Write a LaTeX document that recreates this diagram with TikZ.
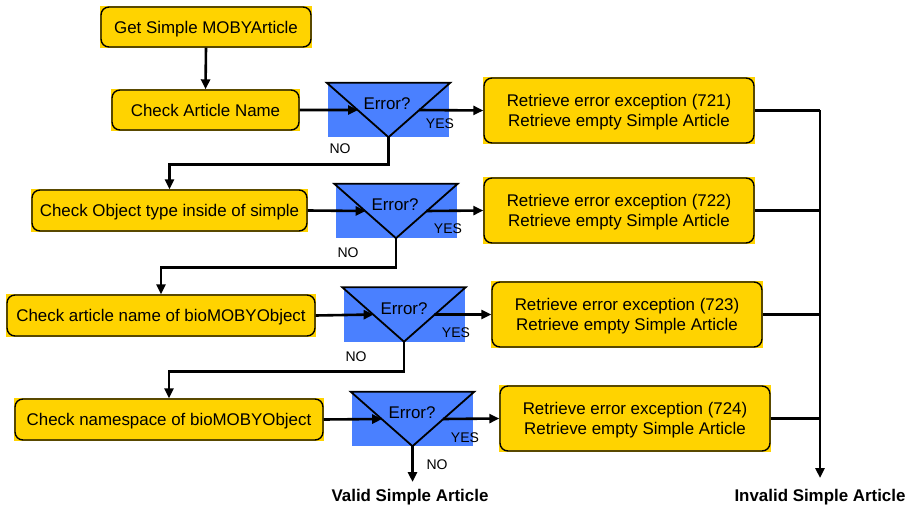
\documentclass[tikz,border=0pt]{standalone}
\usepackage{fontspec}
\setmainfont{Liberation Sans}
\usetikzlibrary{arrows.meta,backgrounds,calc}
\definecolor{yel}{RGB}{255,211,0}
\definecolor{blu}{RGB}{74,128,255}
\tikzset{
  box/.style={draw=black, line width=1.4pt, fill=yel, rounded corners=8pt, inner sep=0pt, align=center,
    text depth=-1.2pt, font=\fontsize{16.9}{19.5}\selectfont},
  bluerect/.style={fill=blu, inner sep=0pt, minimum width=121pt, minimum height=54pt},
  tri/.style={draw=black, line width=1.8pt, line join=miter},
  conn/.style={draw=black, line width=2.6pt},
  arr/.style={conn, -{Triangle[length=10pt,width=9pt]}},
  small/.style={font=\fontsize{14}{16}\selectfont, inner sep=0pt},
  errlbl/.style={font=\fontsize{16.9}{20}\selectfont, inner sep=0pt},
  endlbl/.style={font=\bfseries\fontsize{16.9}{20}\selectfont, inner sep=0pt},
}
\begin{document}
\begin{tikzpicture}[x=1pt,y=-1pt]
\useasboundingbox (0,0) rectangle (910,508);
% process boxes
\node[box, minimum width=210pt, minimum height=40pt] (b1) at (206,27) {Get Simple MOBYArticle};
\node[box, minimum width=187pt, minimum height=40pt] (b2) at (205.5,110) {Check Article Name};
\node[box, minimum width=275pt, minimum height=41pt] (b3) at (169.5,210.5) {Check Object type inside of simple};
\node[box, minimum width=308pt, minimum height=41pt] (b4) at (161,315.5) {Check article name of bioMOBYObject};
\node[box, minimum width=308pt, minimum height=41pt] (b5) at (169,419.5) {Check namespace of bioMOBYObject};
% result boxes
\node[box, minimum width=270pt, minimum height=65pt] (r1) at (619,110.5) {Retrieve error exception (721)\\Retrieve empty Simple Article};
\node[box, minimum width=270pt, minimum height=65pt] (r2) at (619,210.5) {Retrieve error exception (722)\\Retrieve empty Simple Article};
\node[box, minimum width=270pt, minimum height=65pt] (r3) at (627,314.5) {Retrieve error exception (723)\\Retrieve empty Simple Article};
\node[box, minimum width=270pt, minimum height=65pt] (r4) at (635,418.5) {Retrieve error exception (724)\\Retrieve empty Simple Article};
% yellow sharp backgrounds
\begin{scope}[on background layer]
\foreach \n in {b1,b2,b3,b4,b5,r1,r2,r3,r4}
  \fill[yel] (\n.south west) rectangle (\n.north east);
\end{scope}
% decisions
\node[bluerect] (t1) at (388.5,110) {};
\node[bluerect] (t2) at (396,211) {};
\node[bluerect] (t3) at (404,314.5) {};
\node[bluerect] (t4) at (412.5,419) {};
\foreach \t in {t1,t2,t3,t4}{
  \draw[tri] ($(\t.north west)+(-1,0)$) -- ($(\t.north east)+(1,0)$) -- (\t.south) -- cycle;
}
\node[errlbl] (e1) at (387,104) {Error?};
\node[errlbl] (e2) at (395,205) {Error?};
\node[errlbl] (e3) at (404,309) {Error?};
\node[errlbl] (e4) at (412,413) {Error?};
% edge points on triangles
\foreach \t in {t1,t2,t3,t4}{
  \coordinate (\t l) at ($(\t.north west)!0.5!(\t.south)$);
  \coordinate (\t r) at ($(\t.north east)!0.5!(\t.south)$);
}
% connectors
\draw[arr] (b1.south) -- (b2.north);
\draw[arr] (b2.east) -- (t1l);
\draw[arr] (b3.east) -- (t2l);
\draw[arr] (b4.east) -- (t3l);
\draw[arr] (b5.east) -- (t4l);
\draw[arr] (t1r) -- (r1.west);
\draw[arr] (t2r) -- (r2.west);
\draw[arr] (t3r) -- (r3.west);
\draw[arr] (t4r) -- (r4.west);
\draw[arr] (t1.south) -- ++(0,27) -| (b3.north);
\draw[arr] (t2.south) -- ++(0,29) -| (b4.north);
\draw[arr] (t3.south) -- ++(0,30) -| (b5.north);
\coordinate (vend) at (412.5,482);
\draw[arr] (t4.south) -- (vend);
% collector
\coordinate (ctop) at (820,110.5);
\coordinate (cbot) at (820,478);
\draw[conn] (r1.east) -- (ctop);
\draw[arr] (ctop) -- (cbot);
\draw[conn] (r2.east) -- (r2.east -| ctop);
\draw[conn] (r3.east) -- (r3.east -| ctop);
\draw[conn] (r4.east) -- (r4.east -| ctop);
% labels
\node[small] (y1) at (440,124) {YES};
\node[small] (y2) at (448,229) {YES};
\node[small] (y3) at (456,333) {YES};
\node[small] (y4) at (465,438) {YES};
\node[small] (n1) at (340,149) {NO};
\node[small] (n2) at (348,253) {NO};
\node[small] (n3) at (356,357) {NO};
\node[small] (n4) at (437,465) {NO};
\node[endlbl] (valid) at (410,497) {Valid Simple Article};
\node[endlbl] (invalid) at (820,497) {Invalid Simple Article};
\end{tikzpicture}
\end{document}
